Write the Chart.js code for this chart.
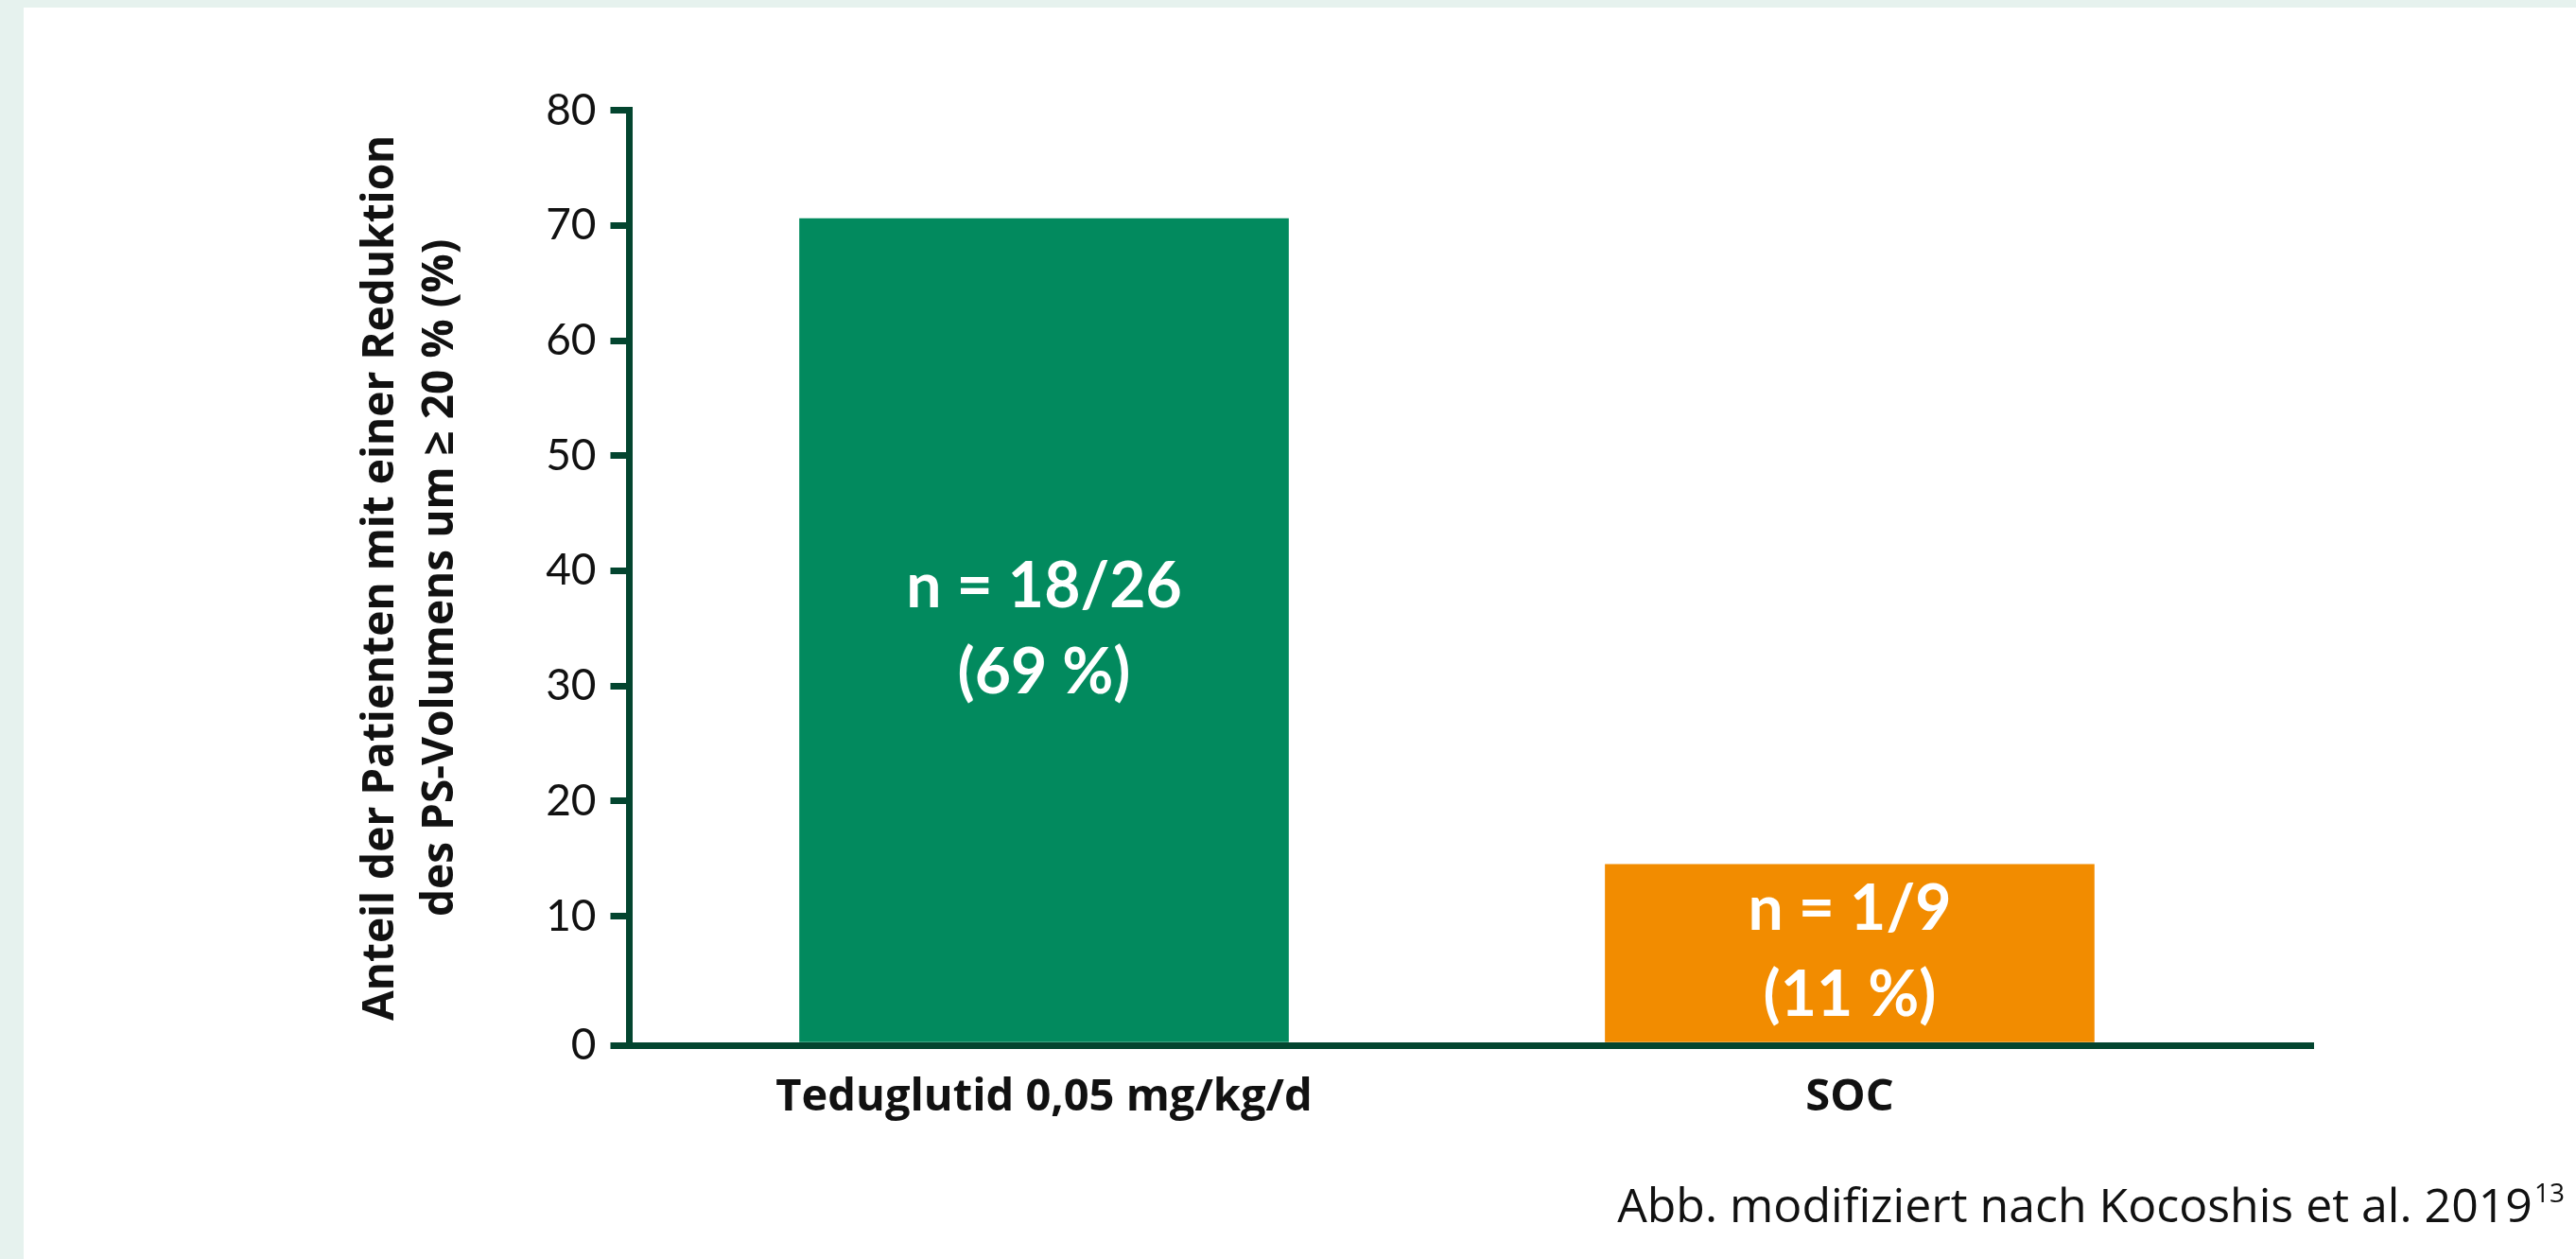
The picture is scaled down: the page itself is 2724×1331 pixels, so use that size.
<!DOCTYPE html>
<html lang="de">
<head>
<meta charset="utf-8">
<title>Anteil der Patienten mit PS-Reduktion</title>
<script src="https://cdn.jsdelivr.net/npm/chart.js@4"></script>
<style>
    html, body { margin: 0; padding: 0; }
    body {
        width: 2724px;
        height: 1331px;
        background: #e6f2ee;
        position: relative;
        overflow: hidden;
        font-family: "Open Sans", Lato, sans-serif;
    }
    #panel {
        position: absolute;
        left: 25px;
        top: 8px;
        width: 2699px;
        height: 1323px;
        background: #ffffff;
    }
    #chart { position: absolute; left: 0; top: 0; }
    #source {
        position: absolute;
        right: 12px;
        top: 1248px;
        font-size: 50px;
        line-height: 1;
        color: #111111;
        white-space: nowrap;
    }
    #source span {
        font-size: 28px;
        position: relative;
        top: -21px;
        margin-left: 2px;
    }
</style>
</head>
<body>
<div id="panel">
    <canvas id="chart" width="2699" height="1323"></canvas>
</div>
<div id="source">Abb. modifiziert nach Kocoshis et al. 2019<span>13</span></div>

<script>
    // data
    const categories = ["Teduglutid 0,05 mg/kg/d", "SOC"];
    const shares = [70.6, 14.5];
    const barLabels = [["n = 18/26", "(69 %)"], ["n = 1/9", "(11 %)"]];
    const yTicks = [0, 10, 20, 30, 40, 50, 60, 70, 80];
    const yTitle = ["Anteil der Patienten mit einer Reduktion", "des PS-Volumens um \u2265 20 % (%)"];

    // the x axis sits a bit below the zero line in the original
    const axisFloor = -1.2;

    const axisColor = "#03452f";
    const barColors = ["#028a5e", "#f28c00"];

    Chart.defaults.font.family = "Lato, 'Open Sans', sans-serif";
    Chart.defaults.color = "#111111";

    // white text in the middle of each bar
    const barTextPlugin = {
        id: "barText",
        afterDatasetsDraw(chart) {
            const ctx = chart.ctx;
            const meta = chart.getDatasetMeta(0);
            ctx.save();
            ctx.fillStyle = "#ffffff";
            ctx.font = "bold 66px Lato, 'Open Sans', sans-serif";
            ctx.textAlign = "center";
            ctx.textBaseline = "middle";
            meta.data.forEach((bar, i) => {
                const lines = barLabels[i];
                const cy = (bar.y + bar.base) / 2;
                const gap = 91;
                lines.forEach((line, j) => {
                    ctx.fillText(line, bar.x, cy + (j - (lines.length - 1) / 2) * gap);
                });
            });
            ctx.restore();
        }
    };

    const ctx = document.getElementById("chart").getContext("2d");
    new Chart(ctx, {
        type: "bar",
        data: {
            datasets: [{
                data: shares.map((v, i) => ({ x: i, y: v })),
                backgroundColor: barColors,
                borderWidth: 0,
                barThickness: 517,
                base: axisFloor
            }]
        },
        options: {
            responsive: false,
            animation: false,
            devicePixelRatio: 1,
            layout: {
                padding: { left: 346.5, top: 108.7, right: 277.3, bottom: 106 }
            },
            plugins: {
                legend: { display: false },
                tooltip: { enabled: false }
            },
            scales: {
                x: {
                    type: "linear",
                    offset: false,
                    bounds: "data",
                    grace: 0,
                    min: -0.5147,
                    max: 1.576,
                    afterBuildTicks: (scale) => {
                        scale.ticks = categories.map((c, i) => ({ value: i }));
                    },
                    afterFit: (scale) => { scale.height = 120; },
                    ticks: {
                        callback: (value) => categories[value],
                        font: { family: "'Open Sans', Lato, sans-serif", size: 47, weight: "bold" },
                        color: "#111111",
                        padding: 27,
                        maxRotation: 0,
                        autoSkip: false
                    },
                    grid: { display: true, offset: false, drawOnChartArea: false, drawTicks: false, color: axisColor },
                    border: { display: true, color: axisColor, width: 7, z: 1 }
                },
                y: {
                    min: axisFloor,
                    max: 80,
                    afterBuildTicks: (scale) => {
                        scale.ticks = yTicks.map(v => ({ value: v === 0 ? axisFloor : v }));
                    },
                    afterFit: (scale) => { scale.width = 294; },
                    ticks: {
                        callback: (value) => value === axisFloor ? "0" : String(value),
                        font: { size: 46 },
                        color: "#111111",
                        padding: 15
                    },
                    grid: {
                        drawOnChartArea: false,
                        drawTicks: true,
                        tickLength: 20,
                        tickWidth: 7,
                        tickColor: axisColor,
                        color: axisColor,
                        lineWidth: 7
                    },
                    border: { display: true, color: axisColor, width: 7, z: 1 },
                    title: {
                        display: true,
                        text: yTitle,
                        color: "#111111",
                        font: { family: "'Open Sans', Lato, sans-serif", size: 46, weight: "bold", lineHeight: 1.37 },
                        padding: { top: 0, bottom: 0 }
                    }
                }
            }
        },
        plugins: [barTextPlugin]
    });
</script>
</body>
</html>
